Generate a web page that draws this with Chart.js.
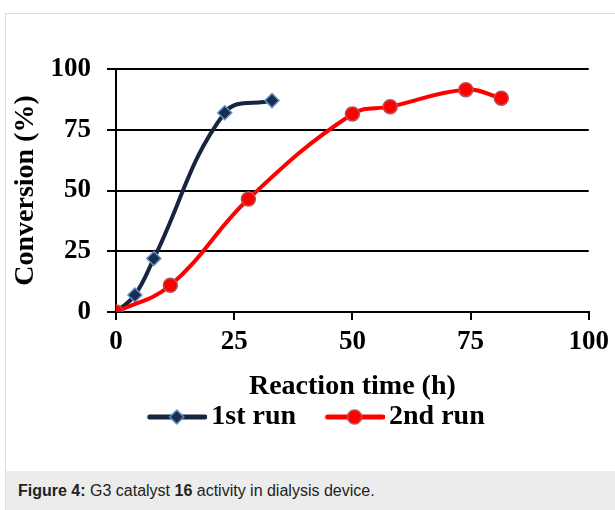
<!DOCTYPE html>
<html>
<head>
<meta charset="utf-8">
<script src="https://cdn.jsdelivr.net/npm/chart.js@4"></script>
<style>
    body { margin: 0; background: #fff; width: 615px; height: 510px; overflow: hidden; position: relative; }
    .frame { position: absolute; left: 5px; top: 13px; right: 0; bottom: 0; border-left: 1px solid #dedede; border-top: 1px solid #dedede; }
    .chart-box { position: absolute; left: 0; top: 0; width: 615px; height: 445px; }
    .caption { position: absolute; left: 6px; top: 471px; width: 609px; height: 39px; background: #ececec;
               font-family: "Liberation Sans", Arial, sans-serif; font-size: 16px; color: #222; line-height: 39px; padding-left: 12px; box-sizing: border-box; }
</style>
</head>
<body>
<div class="frame"></div>
<div class="chart-box"><canvas id="convChart" width="615" height="445"></canvas></div>
<div class="caption"><b>Figure 4:</b> G3 catalyst <b>16</b> activity in dialysis device.</div>
<script>
// Data
const run1Time = [0, 4, 8, 23, 33];
const run1Conv = [0, 7, 22, 82, 87];
const run2Time = [0, 11.5, 28, 50, 58, 74, 81.5];
const run2Conv = [0, 11, 46.5, 81.5, 84.5, 91.5, 88];
const seriesNames = ['1st run', '2nd run'];
const axisTicks = [0, 25, 50, 75, 100];

const serif = '"Liberation Serif", "Times New Roman", serif';

function toPoints(xs, ys) {
    return xs.map((x, i) => ({ x: x, y: ys[i] }));
}

// line + marker image for the legend (left part is empty to space the items)
function legendSwatch(lineColor, fill, stroke, style) {
    const c = document.createElement('canvas');
    c.width = 96;
    c.height = 18;
    const ctx = c.getContext('2d');
    ctx.strokeStyle = lineColor;
    ctx.lineWidth = 5;
    ctx.lineCap = 'round';
    ctx.beginPath();
    ctx.moveTo(39, 9);
    ctx.lineTo(94, 9);
    ctx.stroke();
    ctx.fillStyle = fill;
    ctx.strokeStyle = stroke;
    ctx.lineWidth = 1.5;
    ctx.beginPath();
    if (style === 'diamond') {
        ctx.moveTo(66, 2); ctx.lineTo(73, 9); ctx.lineTo(66, 16); ctx.lineTo(59, 9); ctx.closePath();
    } else {
        ctx.arc(66, 9, 7, 0, Math.PI * 2);
    }
    ctx.fill();
    ctx.stroke();
    return c;
}

const swatches = [
    legendSwatch('#17253e', '#1d2c4a', '#5b8fd0', 'diamond'),
    legendSwatch('#ff0000', '#ff0000', '#b85252', 'circle')
];

const ctx = document.getElementById('convChart').getContext('2d');
new Chart(ctx, {
    type: 'scatter',
    data: {
        datasets: [{
            label: seriesNames[0],
            data: toPoints(run1Time, run1Conv),
            showLine: true,
            borderColor: '#17253e',
            borderWidth: 4,
            tension: 0.4,
            pointStyle: 'rectRot',
            pointRadius: 7,
            pointBackgroundColor: '#1d2c4a',
            pointBorderColor: '#5b8fd0',
            pointBorderWidth: 1.5,
            order: 2
        }, {
            label: seriesNames[1],
            data: toPoints(run2Time, run2Conv),
            showLine: true,
            borderColor: '#ff0000',
            borderWidth: 4,
            tension: 0.4,
            pointStyle: 'circle',
            pointRadius: 7,
            pointBackgroundColor: '#ff0000',
            pointBorderColor: '#b85252',
            pointBorderWidth: 1.5,
            order: 1
        }]
    },
    options: {
        responsive: false,
        animation: false,
        layout: { padding: { left: 12, top: 69, right: 22, bottom: 4 } },
        scales: {
            x: {
                min: 0,
                max: 100,
                afterBuildTicks: axis => { axis.ticks = axisTicks.map(v => ({ value: v })); },
                afterFit: axis => { axis.height = 89; },
                grid: { drawOnChartArea: false, drawTicks: true, tickLength: 8, color: '#000', lineWidth: 2 },
                border: { color: '#000', width: 2 },
                ticks: { color: '#000', padding: 6, font: { family: serif, size: 27, weight: 'bold' } },
                title: { display: true, text: 'Reaction time (h)', color: '#000', padding: 0,
                         font: { family: serif, size: 28, weight: 'bold', lineHeight: 1 } }
            },
            y: {
                min: 0,
                max: 100,
                afterBuildTicks: axis => { axis.ticks = axisTicks.map(v => ({ value: v })); },
                afterFit: axis => { axis.width = 104; },
                grid: { color: '#000', lineWidth: 2, tickLength: 9 },
                border: { color: '#000', width: 2 },
                ticks: { color: '#000', padding: 16, font: { family: serif, size: 27, weight: 'bold' } },
                title: { display: true, text: 'Conversion (%)', color: '#000', padding: 0,
                         font: { family: serif, size: 28, weight: 'bold', lineHeight: 1 } }
            }
        },
        plugins: {
            tooltip: { enabled: false },
            legend: {
                position: 'bottom',
                labels: {
                    usePointStyle: true,
                    pointStyleWidth: 77,
                    padding: 2,
                    color: '#000',
                    font: { family: serif, size: 28, weight: 'bold' },
                    generateLabels: chart => chart.data.datasets.map((ds, i) => ({
                        text: ds.label,
                        pointStyle: swatches[i],
                        fillStyle: ds.borderColor,
                        strokeStyle: ds.borderColor,
                        lineWidth: 0,
                        fontColor: '#000',
                        datasetIndex: i
                    }))
                }
            }
        }
    }
});
</script>
</body>
</html>
